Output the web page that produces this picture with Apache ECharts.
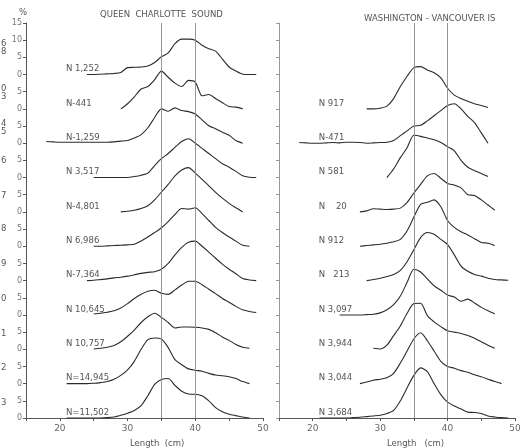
<!DOCTYPE html>
<html><head><meta charset="utf-8">
<script src="https://cdn.jsdelivr.net/npm/echarts@6/dist/echarts.min.js"></script>
<style>html,body{margin:0;padding:0;background:#fff}#c{width:531px;height:448px}</style>
</head><body><div id="c"></div>
<script>
// ---- Queen Charlotte Sound (top to bottom) ----
const qcsLabels = ['N 1,252','N-441','N-1,259','N 3,517','N-4,801','N 6,986','N-7,364','N 10,645','N 10,757','N=14,945','N=11,502'];
const qcsStart = [24, 29, 18, 25, 29, 25, 24, 25, 25, 21, 21];
const qcs1 = [0,0,0.1,0.2,0.3,0.6,2.0,2.1,2.2,2.5,3.5,5.2,6.3,9.0,10.3,10.3,10.0,8.5,7.5,6.8,4.5,2.2,1.0,0.1,0,0];
const qcs2 = [0,1.5,3.5,5.8,6.5,8.5,11,9.2,7.5,6.5,8.3,7.8,3.8,4.2,3,1.8,0.7,0.5,0];
const qcs3 = [0.5,0.4,0.3,0.3,0.3,0.3,0.3,0.3,0.3,0.3,0.4,0.6,0.8,1.5,2.5,4.5,7.5,10,9.3,10.3,9.5,9.2,8.5,6.8,5.1,4.2,3.2,2.3,0.8,0];
const qcs4 = [0,0,0,0,0,0,0.3,0.7,1.3,3.5,5.5,7,8.8,10.5,11.3,10,8.5,7,5.5,4,3,1.8,0.5,0.1,0];
const qcs5 = [0,0.2,0.5,1,1.8,3.5,5.8,8,10.5,12.2,12.9,11.3,9.5,7.6,5.7,4,2.5,1.2,0];
const qcs6 = [0,0,0.1,0.2,0.3,0.4,0.6,1.5,2.7,4,5.4,7.2,9.3,11,10.8,11.2,9.5,7.5,5.5,4,2.7,1.5,0.3,0];
const qcs7 = [0,0.1,0.3,0.5,0.8,1,1.3,1.7,2.1,2.4,2.6,3.3,5,7.5,9.7,11.2,11.5,10,8.3,6.5,4.8,3.3,2,0.6,0.2,0];
const qcs8 = [0.3,0.5,0.8,1.2,2,3.3,4.8,6,6.9,7.2,6.3,6,7.3,8.7,9.8,9.8,8.8,7.5,6.2,4.8,3.7,2.5,1.5,1,0.7];
const qcs9 = [0.1,0.3,0.6,1.1,2.2,3.8,5.6,7.8,9.5,10.5,9.3,7.8,6.2,6.5,6.5,6.4,6.2,5.8,4.8,3.6,2.6,1.4,0.6,0.3];
const qcs10 = [0,0,0,0,0.1,0.3,0.6,1.3,2.4,4.0,6.5,10,12.8,13.3,13,10.5,7,5.5,4.3,3.9,3.6,3,2.5,2.3,2,1.5,0.6,0];
const qcs11 = [0,0,0,0,0,0,0.1,0.3,0.8,1.4,2.2,3.6,6.5,9.8,11.2,11.5,9.5,7.8,7,6.9,6.5,5,3,1.8,1.1,0.7,0.3,0];
const qcsValues = [qcs1,qcs2,qcs3,qcs4,qcs5,qcs6,qcs7,qcs8,qcs9,qcs10,qcs11];

// ---- Washington - Vancouver Is (top to bottom) ----
const wviLabels = ['N 917','N-471','N 581','N    20','N 912','N   213','N 3,097','N 3,944','N 3,044','N 3,684'];
const wviStart = [28, 18, 31, 27, 27, 28, 24, 29, 27, 21];
const wvi1 = [0,0,0.2,0.8,3,6.5,9.5,12,12.3,11.3,10.5,9,6,4,3,2.2,1.5,1,0.4];
const wvi2 = [0.2,0.1,0,0,0.1,0.2,0.1,0.3,0.3,0.2,0,0.1,0.2,0.3,0.8,2.2,3.6,5,5.2,6.5,8,9.5,11,11.5,10,7.8,6,3,0];
const wvi3 = [0,2.5,5.8,8.7,12.3,12,11.5,11,10.2,9,7.8,5,3,2,1.2,0.3];
const wvi4 = [0,0.3,0.9,0.8,0.7,0.8,1.1,2.8,5.5,8,10.5,11.2,9.8,8.3,7.8,7,5,4.8,3.5,2,0.5];
const wvi5 = [0,0.2,0.4,0.6,0.9,1.3,2,4.5,8.5,12.2,12.8,13.5,11.5,7.5,5.5,4.2,3.3,2.2,1.1,0.9,0.2];
const wvi6 = [0,0.3,0.7,1.2,1.8,3,5.5,9,12.5,14,13.5,12,10.5,7.5,4.2,2.7,1.8,1.3,0.7,0.3,0.2,0.1];
const wvi7 = [0,0,0,0,0.1,0.2,0.6,1.5,3,5.5,9.5,13.3,12.5,10.5,8.5,7.2,5.8,5.2,4,4.6,3.5,2.2,1.2,0.3];
const wvi8 = [0.3,0.1,1.2,4,6.8,10.5,13.3,13.4,9.8,8,6.6,5.4,5,4.6,4,3.2,2.2,1.2,0.3];
const wvi9 = [0,0.5,1,1.3,1.7,3,6,9.5,13,14.8,12.5,9.5,6.5,5,4.5,3.8,3.3,2.6,2,1.3,0.6,0];
const wvi10 = [0,0,0,0,0,0.1,0.2,0.4,0.6,0.8,1.3,2.2,5,8.8,12.4,14.6,13.5,10,6.8,4.6,3.5,2.6,1.7,1.6,1.3,0.6,0.3,0.1,0];
const wviValues = [wvi1,wvi2,wvi3,wvi4,wvi5,wvi6,wvi7,wvi8,wvi9,wvi10];

const xTickLabels = [20, 30, 40, 50];
const refLengths = [35, 40];
const rowStep = 10;

const lineColor = '#2b2b2b';
const txt = '#666';
const font = 'DejaVu Sans';

function buildSeries(values, starts, labels, gridIdx) {
  const n = values.length;
  return values.map((vals, r) => {
    const offset = (n - 1 - r) * rowStep;
    const s = {
      type: 'line', xAxisIndex: gridIdx, yAxisIndex: gridIdx,
      data: vals.map((v, k) => [starts[r] + k, offset + v]),
      showSymbol: false, symbol: 'none', smooth: 0.25,
      lineStyle: { color: lineColor, width: 1.1 },
      silent: true, animation: false,
      markPoint: {
        symbol: 'circle', symbolSize: 0, silent: true, animation: false,
        data: [{ coord: [20.9, offset + 1.6], value: labels[r] }],
        label: { show: true, position: 'right', distance: 0, formatter: labels[r],
          color: '#555', fontSize: 8.5, fontFamily: font }
      }
    };
    if (r === 0) {
      s.markLine = {
        symbol: 'none', silent: true, animation: false,
        label: { show: false },
        lineStyle: { color: '#8a8a8a', width: 0.9, type: 'solid' },
        data: refLengths.map(x => ({ xAxis: x }))
      };
    }
    return s;
  });
}

const xAxisCommon = {
  type: 'value', min: 15, max: 50, interval: 5,
  axisLine: { lineStyle: { color: '#555', width: 1 } },
  axisTick: { length: 3, lineStyle: { color: '#555' } },
  splitLine: { show: false },
  axisLabel: { color: txt, fontSize: 9, fontFamily: font, margin: 6,
    formatter: v => xTickLabels.includes(v) ? String(v) : '' }
};

const chart = echarts.init(document.getElementById('c'), null, { renderer: 'canvas' });
chart.setOption({
  animation: false,
  backgroundColor: '#fff',
  title: [
    { text: 'QUEEN  CHARLOTTE  SOUND', left: 95, top: 5, textStyle: { fontSize: 8.5, fontWeight: 'normal', color: '#555', fontFamily: font } },
    { text: 'WASHINGTON - VANCOUVER IS', left: 359, top: 9, textStyle: { fontSize: 8.5, fontWeight: 'normal', color: '#555', fontFamily: font } },
    { text: '%', left: 14, top: 3, textStyle: { fontSize: 8.5, fontWeight: 'normal', color: '#555', fontFamily: font } },
    { text: 'Length  (cm)', left: 125, top: 434, textStyle: { fontSize: 8.5, fontWeight: 'normal', color: '#555', fontFamily: font } },
    { text: 'Length   (cm)', left: 382, top: 434, textStyle: { fontSize: 8.5, fontWeight: 'normal', color: '#555', fontFamily: font } }
  ],
  grid: [
    { left: 26, width: 237, top: 23, bottom: 30 },
    { left: 279, width: 236, top: 23, bottom: 30 }
  ],
  xAxis: [
    Object.assign({ gridIndex: 0 }, xAxisCommon),
    Object.assign({ gridIndex: 1 }, xAxisCommon)
  ],
  yAxis: [
    { type: 'value', gridIndex: 0, min: 0, max: 115, interval: 5,
      axisLine: { show: true, lineStyle: { color: '#555' } },
      axisTick: { show: true, length: 3, lineStyle: { color: '#555' } },
      splitLine: { show: false },
      axisLabel: { color: '#777', fontSize: 8, fontFamily: font, margin: 4,
        formatter: v => String(v >= 100 ? v - 100 : v % 10) } },
    { type: 'value', gridIndex: 1, min: 0, max: 115, interval: 5,
      axisLine: { show: true, lineStyle: { color: '#999' } },
      axisTick: { show: true, length: 3, lineStyle: { color: '#999' } },
      splitLine: { show: false },
      axisLabel: { show: false } }
  ],
  graphic: [
    ['6', 39], ['8', 47], ['0', 84], ['3', 92], ['4', 119], ['5', 127], ['6', 156], ['7', 191],
    ['8', 224], ['9', 259], ['0', 294], ['1', 329], ['2', 363], ['3', 398]
  ].map(([t, y]) => ({ type: 'text', left: 1, top: y, silent: true,
    style: { text: t, fontSize: 8.5, fill: '#555', fontFamily: font } })),
  series: buildSeries(qcsValues, qcsStart, qcsLabels, 0).concat(buildSeries(wviValues, wviStart, wviLabels, 1))
});
</script>
</body></html>
